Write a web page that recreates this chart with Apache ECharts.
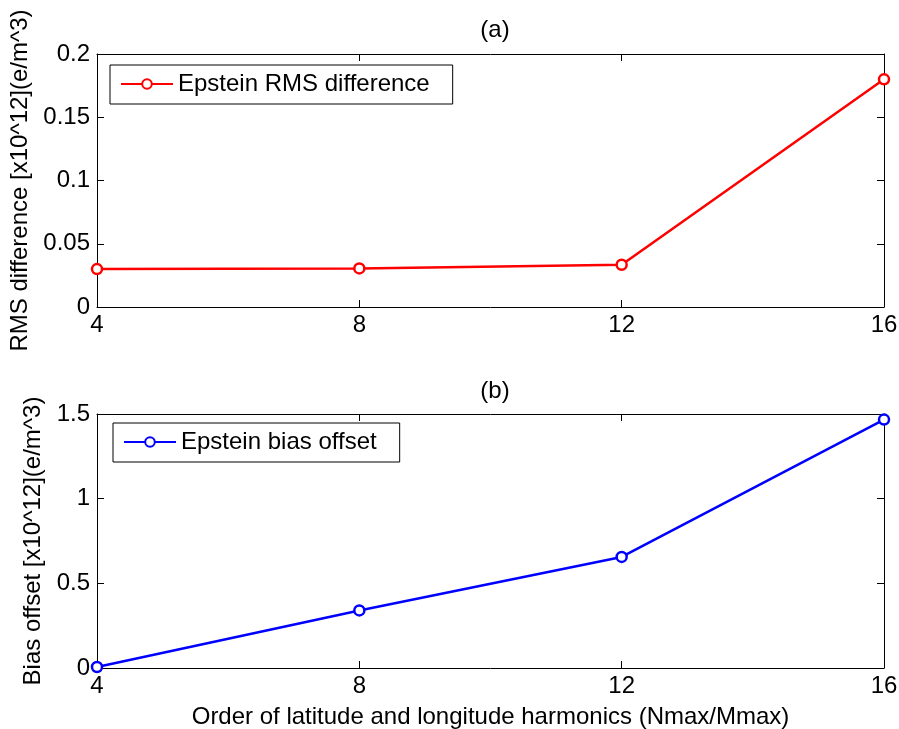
<!DOCTYPE html>
<html>
<head>
<meta charset="utf-8">
<script src="https://cdn.jsdelivr.net/npm/echarts@6/dist/echarts.min.js"></script>
<style>
  html, body { margin: 0; padding: 0; background: #fff; }
  #chart { width: 899px; height: 729px; }
</style>
</head>
<body>
<div id="chart"></div>
<script>
// Harmonic order (Nmax/Mmax)
const orders = [4, 8, 12, 16];
// Panel (a): RMS difference [x10^12](e/m^3)
const rmsDiff = [0.030, 0.0305, 0.0334, 0.180];
// Panel (b): bias offset [x10^12](e/m^3)
const biasOffset = [0.006, 0.340, 0.656, 1.467];

const xTicks = [4, 8, 12, 16];
const yTicksA = [0, 0.05, 0.1, 0.15, 0.2];
const yTicksB = [0, 0.5, 1, 1.5];

const FONT = 'Liberation Sans, Arial, Helvetica, sans-serif';
const FS = 24;
const BLACK = '#000';

const chart = echarts.init(document.getElementById('chart'), null, { renderer: 'canvas' });

function pairs(xs, ys) { return xs.map((x, i) => [x, ys[i]]); }

function xAxisPair(gridIndex, name) {
  const base = {
    type: 'value', gridIndex,
    min: xTicks[0], max: xTicks[xTicks.length - 1], interval: 4,
    splitLine: { show: false },
    axisLine: { show: true, onZero: false, lineStyle: { color: BLACK, width: 1 } },
    axisTick: { show: true, inside: true, length: 7, lineStyle: { color: BLACK } }
  };
  return [
    Object.assign({}, base, {
      position: 'bottom',
      name: name || '',
      nameLocation: 'middle',
      nameGap: 37,
      nameTextStyle: { fontFamily: FONT, fontSize: FS, color: BLACK },
      axisLabel: { show: true, margin: 6, fontFamily: FONT, fontSize: FS, color: BLACK }
    }),
    Object.assign({}, base, { position: 'top', axisLabel: { show: false } })
  ];
}

function yAxisPair(gridIndex, ticks, interval, name, gap) {
  const base = {
    type: 'value', gridIndex,
    min: ticks[0], max: ticks[ticks.length - 1], interval,
    splitLine: { show: false },
    axisLine: { show: true, onZero: false, lineStyle: { color: BLACK, width: 1 } },
    axisTick: { show: true, inside: true, length: 7, lineStyle: { color: BLACK } }
  };
  return [
    Object.assign({}, base, {
      position: 'left',
      name,
      nameLocation: 'middle',
      nameGap: gap,
      nameRotate: 90,
      nameTextStyle: { fontFamily: FONT, fontSize: FS, color: BLACK },
      axisLabel: { show: true, margin: 7, fontFamily: FONT, fontSize: FS, color: BLACK }
    }),
    Object.assign({}, base, { position: 'right', axisLabel: { show: false } })
  ];
}

const lineSeries = (name, data, color, xi, yi) => ({
  name, type: 'line',
  xAxisIndex: xi, yAxisIndex: yi,
  data,
  symbol: 'circle', symbolSize: 10, showSymbol: true,
  lineStyle: { color, width: 2.5 },
  itemStyle: { color: '#fff', borderColor: color, borderWidth: 2.5 },
  emphasis: { disabled: true },
  animation: false,
  clip: false
});

const legendCommon = {
  orient: 'horizontal',
  backgroundColor: '#fff',
  borderColor: BLACK,
  borderWidth: 1,
  borderRadius: 0,
  padding: [7, 23, 8, 10],
  itemWidth: 52,
  itemHeight: 12,
  itemGap: 8,
  textStyle: { fontFamily: FONT, fontSize: FS, color: BLACK }
};

const gridCommon = { containLabel: false, outerBoundsMode: 'none' };

const option = {
  backgroundColor: '#fff',
  animation: false,
  title: [
    { text: '(a)', left: 490, top: 13, textAlign: 'center',
      textStyle: { fontFamily: FONT, fontSize: FS, fontWeight: 'normal', color: BLACK } },
    { text: '(b)', left: 490, top: 374, textAlign: 'center',
      textStyle: { fontFamily: FONT, fontSize: FS, fontWeight: 'normal', color: BLACK } }
  ],
  grid: [
    Object.assign({ left: 97, top: 54, width: 787, height: 253 }, gridCommon),
    Object.assign({ left: 97, top: 414, width: 787, height: 254 }, gridCommon)
  ],
  xAxis: [...xAxisPair(0, ''), ...xAxisPair(1, 'Order of latitude and longitude harmonics (Nmax/Mmax)')],
  yAxis: [
    ...yAxisPair(0, yTicksA, 0.05, 'RMS difference [x10^12](e/m^3)', 61),
    ...yAxisPair(1, yTicksB, 0.5, 'Bias offset [x10^12](e/m^3)', 47)
  ],
  legend: [
    Object.assign({}, legendCommon, { left: 110, top: 65, data: ['Epstein RMS difference'] }),
    Object.assign({}, legendCommon, { left: 113, top: 423, data: ['Epstein bias offset'] })
  ],
  series: [
    lineSeries('Epstein RMS difference', pairs(orders, rmsDiff), '#ff0000', 0, 0),
    lineSeries('Epstein bias offset', pairs(orders, biasOffset), '#0000ff', 2, 2)
  ]
};

chart.setOption(option);
</script>
</body>
</html>
